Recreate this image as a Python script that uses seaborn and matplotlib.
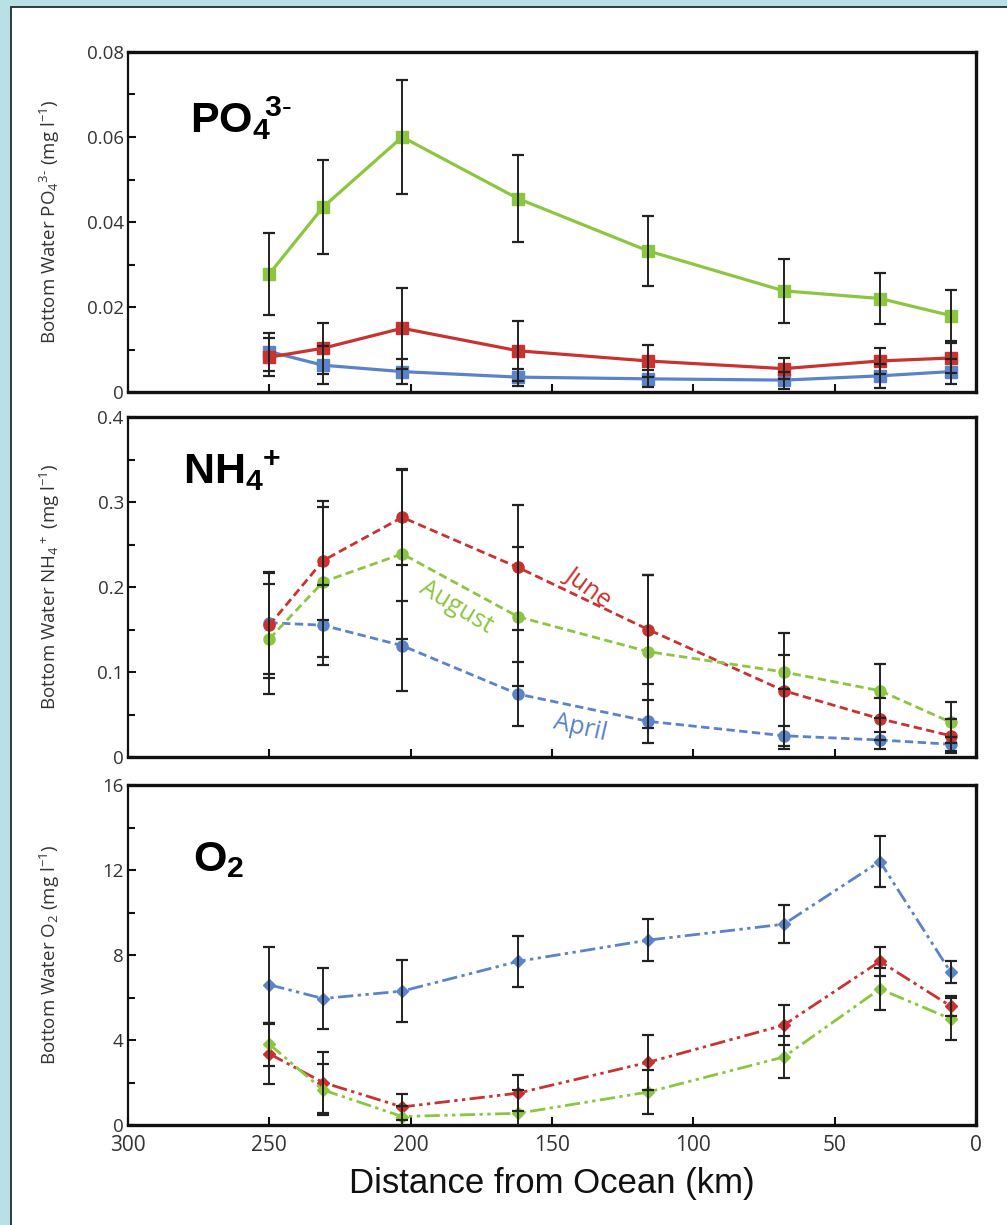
import numpy as np
import pandas as pd
import matplotlib
matplotlib.use("Agg")
import matplotlib.pyplot as plt
from matplotlib.patches import Rectangle
from matplotlib.ticker import MultipleLocator
import seaborn as sns

# ---------------- data ----------------
distance_km = [250, 231, 203, 162, 116, 68, 34, 9]
months = ["April", "June", "August"]

po4_april = [0.0095, 0.0063, 0.0048, 0.0035, 0.0031, 0.0028, 0.0038, 0.0048]
po4_april_err = [0.0045, 0.0045, 0.0030, 0.0020, 0.0020, 0.0020, 0.0028, 0.0030]
po4_june = [0.0082, 0.0103, 0.0150, 0.0097, 0.0073, 0.0055, 0.0073, 0.0080]
po4_june_err = [0.0045, 0.0060, 0.0095, 0.0070, 0.0037, 0.0025, 0.0030, 0.0035]
po4_aug = [0.0278, 0.0435, 0.0600, 0.0455, 0.0332, 0.0238, 0.0220, 0.0180]
po4_aug_err = [0.0097, 0.0110, 0.0135, 0.0103, 0.0083, 0.0075, 0.0060, 0.0060]

nh4_april = [0.158, 0.155, 0.131, 0.074, 0.042, 0.025, 0.020, 0.015]
nh4_april_err = [0.060, 0.047, 0.053, 0.038, 0.025, 0.012, 0.010, 0.008]
nh4_june = [0.155, 0.231, 0.282, 0.223, 0.150, 0.078, 0.045, 0.025]
nh4_june_err = [0.062, 0.070, 0.056, 0.074, 0.064, 0.068, 0.025, 0.020]
nh4_aug = [0.139, 0.206, 0.239, 0.165, 0.124, 0.100, 0.078, 0.041]
nh4_aug_err = [0.065, 0.088, 0.100, 0.082, 0.090, 0.020, 0.032, 0.024]

o2_april = [6.6, 5.95, 6.3, 7.7, 8.7, 9.45, 12.4, 7.2]
o2_april_err = [1.8, 1.45, 1.45, 1.2, 1.0, 0.9, 1.2, 0.5]
o2_june = [3.35, 2.0, 0.85, 1.5, 2.95, 4.7, 7.7, 5.6]
o2_june_err = [1.4, 1.45, 0.6, 0.85, 1.3, 0.95, 0.7, 0.45]
o2_aug = [3.8, 1.65, 0.4, 0.55, 1.55, 3.2, 6.4, 5.0]
o2_aug_err = [1.0, 1.2, 0.5, 1.1, 1.05, 1.0, 1.0, 1.0]

x_ticks = [300, 250, 200, 150, 100, 50, 0]
x_ticklabels = ["300", "250", "200", "150", "100", "50", "0"]
po4_ticks = [0, 0.02, 0.04, 0.06, 0.08]
po4_ticklabels = ["0", "0.02", "0.04", "0.06", "0.08"]
nh4_ticks = [0, 0.1, 0.2, 0.3, 0.4]
nh4_ticklabels = ["0", "0.1", "0.2", "0.3", "0.4"]
o2_ticks = [0, 4, 8, 12, 16]
o2_ticklabels = ["0", "4", "8", "12", "16"]

# ---------------- style ----------------
sns.set_theme(style="white")
plt.rcParams["font.family"] = ["Open Sans", "DejaVu Sans"]
plt.rcParams["mathtext.fontset"] = "custom"
plt.rcParams["mathtext.rm"] = "Open Sans"
plt.rcParams["mathtext.it"] = "Open Sans:italic"
plt.rcParams["mathtext.bf"] = "Liberation Sans:bold"

colors = {"April": "#5b83c9", "June": "#c9322f", "August": "#8cc63f"}

W, H = 1007, 1225
fig = plt.figure(figsize=(W / 100, H / 100), dpi=100)
fig.patch.set_facecolor("#b9e0e4")
fig.patches.append(Rectangle((11 / W, -0.01), 1.05, 1 - 7 / H + 0.01,
                             transform=fig.transFigure, facecolor="white",
                             edgecolor="#2a2a2a", lw=1.3, zorder=-10))

left = 128 / W
width = (976 - 128) / W

def axes_at(top_px, bottom_px):
    return fig.add_axes([left, 1 - bottom_px / H, width, (bottom_px - top_px) / H])

ax1 = axes_at(52, 392)
ax2 = axes_at(417, 757)
ax3 = axes_at(785, 1125)

panels = [
    (ax1, [po4_april, po4_june, po4_aug], [po4_april_err, po4_june_err, po4_aug_err],
     po4_ticks, po4_ticklabels, 0.01, "Bottom Water PO$_4$$^{3\u2010}$ (mg l$^{-1}$)",
     "-", "s", 9),
    (ax2, [nh4_april, nh4_june, nh4_aug], [nh4_april_err, nh4_june_err, nh4_aug_err],
     nh4_ticks, nh4_ticklabels, 0.05, "Bottom Water NH$_4$$^+$ (mg l$^{-1}$)",
     (0, (3.0, 1.6)), "o", 8),
    (ax3, [o2_april, o2_june, o2_aug], [o2_april_err, o2_june_err, o2_aug_err],
     o2_ticks, o2_ticklabels, 2, "Bottom Water O$_2$ (mg l$^{-1}$)",
     (0, (5.5, 1.6, 1.2, 1.6, 1.2, 1.6)), "D", 6.5),
]

for ax, series, errs, yt, ytl, minor, ylabel, ls, mk, ms in panels:
    ax.set_facecolor("white")
    ax.set_zorder(2)
    rows = []
    for m, vals in zip(months, series):
        for d, v in zip(distance_km, vals):
            rows.append({"km": d, "value": v, "month": m})
    df = pd.DataFrame(rows)
    for m, vals, e in zip(months, series, errs):
        ax.errorbar(distance_km, vals, yerr=e, fmt="none", ecolor="#222222",
                    elinewidth=1.4, capsize=4, capthick=1.6, zorder=4)
    for m in ["April", "June", "August"]:
        sub = df[df["month"] == m]
        sns.lineplot(data=sub, x="km", y="value", ax=ax, color=colors[m],
                     linestyle=ls, lw=2.3 if ls == "-" else 2.0, marker=mk,
                     markersize=ms, markeredgecolor=colors[m], markeredgewidth=1,
                     sort=False, estimator=None, zorder=3)
    ax.set_xlim(300, 0)
    ax.set_ylim(yt[0], yt[-1])
    ax.set_xticks(x_ticks)
    ax.set_yticks(yt)
    ax.set_yticklabels(ytl, fontsize=13.5, color="#333333")
    ax.yaxis.set_minor_locator(MultipleLocator(minor))
    ax.tick_params(axis="both", which="both", direction="in", length=6, width=1.5,
                   color="#111111", left=True, bottom=True, pad=3)
    ax.tick_params(axis="y", which="minor", length=5)
    ax.set_ylabel(ylabel, fontsize=13.5, color="#333333")
    ax.yaxis.set_label_coords(-0.078, 0.5)
    ax.set_xlabel("")
    for s in ["top", "right", "bottom"]:
        ax.spines[s].set_visible(True)
        ax.spines[s].set_color("#111111")
        ax.spines[s].set_linewidth(2.4)
    ax.spines["left"].set_visible(True)
    ax.spines["left"].set_color("#111111")
    ax.spines["left"].set_linewidth(1.6)
    if ax is not ax3:
        ax.set_xticklabels([])
    else:
        ax.set_xticklabels(x_ticklabels, fontsize=15, color="#333333")
        ax.tick_params(axis="x", pad=7)

ax3.set_xlabel("Distance from Ocean (km)", fontsize=25, color="#111111",
               family=["Liberation Sans Narrow", "Liberation Sans", "DejaVu Sans"], labelpad=8)

# panel titles
ax1.text(0.073, 0.80, r"$\mathbf{PO_4\!{}^{3\text{-}}}$", transform=ax1.transAxes, fontsize=31,
         color="black", va="center", ha="left")
ax2.text(0.065, 0.835, r"$\mathbf{NH_4\!{}^+}$", transform=ax2.transAxes, fontsize=31,
         color="black", va="center", ha="left")
ax3.text(0.077, 0.78, r"$\mathbf{O_2}$", transform=ax3.transAxes, fontsize=31,
         color="black", va="center", ha="left")

# month labels
ax2.text(137, 0.199, "June", color=colors["June"], fontsize=18, rotation=-36,
         ha="center", va="center")
ax2.text(184, 0.176, "August", color=colors["August"], fontsize=18, rotation=-31,
         ha="center", va="center")
ax2.text(140, 0.034, "April", color=colors["April"], fontsize=18, rotation=-13,
         ha="center", va="center")

fig.savefig("out.png", dpi=100, facecolor=fig.get_facecolor())
